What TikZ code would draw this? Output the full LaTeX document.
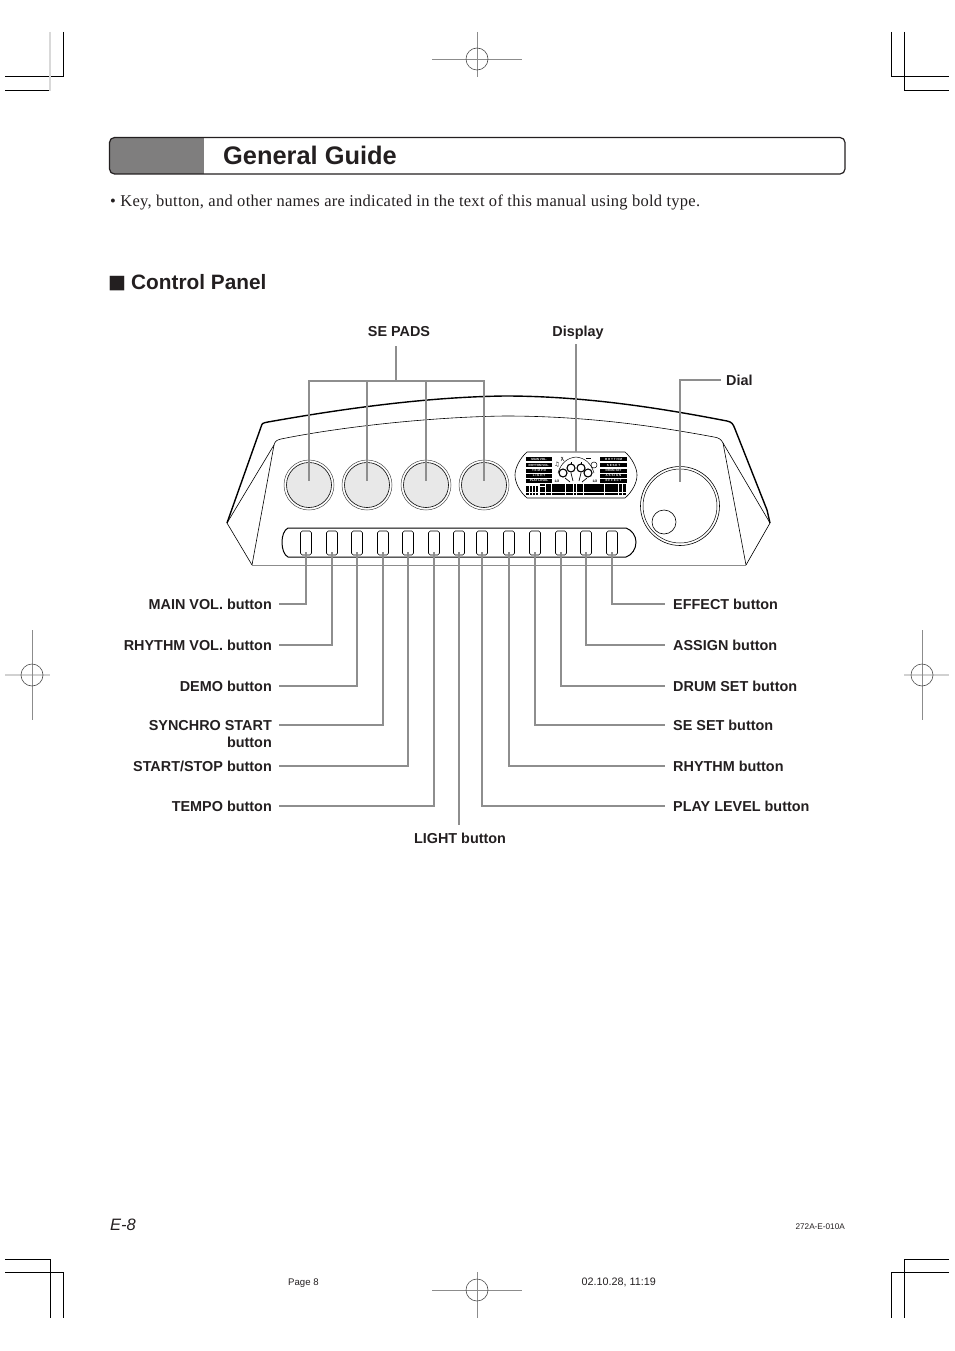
\documentclass[tikz,border=0pt]{standalone}
\usepackage{fontspec}
\setmainfont{Liberation Sans}
\newfontfamily\serifbody[LetterSpace=1.65]{Liberation Serif}
\newfontfamily\symfont{DejaVu Sans}
\definecolor{leadgray}{HTML}{8E8E8E}
\definecolor{padgray}{HTML}{E8E8E8}
\definecolor{bargray}{HTML}{7F7E7E}
\definecolor{titleink}{HTML}{231F20}
\newcommand{\fsz}[1]{\fontsize{#1}{#1}\selectfont}
\tikzset{
  crop/.style={black,line width=1pt},
  croplight/.style={black!15,line width=1.4pt},
  reg/.style={black!45,line width=0.8pt},
  reglight/.style={black!18,line width=1.2pt},
  regring/.style={black!70,line width=0.6pt},
  leader/.style={leadgray,line width=2pt},
  lab/.style={inner sep=0pt,text=titleink,font=\fsz{14.4}\bfseries},
  labl/.style={lab,anchor=east,align=right},
  labr/.style={lab,anchor=west,align=left},
  btn/.style={draw=black,line width=0.6pt,rounded corners=1.8pt,minimum width=11pt,minimum height=24pt,inner sep=0pt},
  pad/.style={circle,draw=black,line width=0.6pt,fill=padgray,minimum size=45pt,inner sep=0pt},
  padring/.style={circle,draw=black!70,line width=0.5pt,minimum size=50pt,inner sep=0pt},
  lcdbox/.style={fill=black,text=white,inner sep=0pt,minimum width=26pt,minimum height=4pt,font=\fsz{3}\bfseries},
  lcdboxb/.style={lcdbox,minimum width=27pt},
  tiny/.style={inner sep=0pt,font=\fsz{3.4}\bfseries},
}
\begin{document}
\begin{tikzpicture}[x=1pt,y=-1pt]
\useasboundingbox (0,0) rectangle (954,1351);
% crop marks
\draw[crop] (63,32) -- (63,77) -- (5,77);
\draw[crop] (5,91) -- (49,91);
\draw[croplight] (50,32) -- (50,91);
\draw[crop] (891,32) -- (891,77) -- (949,77);
\draw[crop] (904,32) -- (904,91) -- (949,91);
\draw[crop] (5,1259) -- (50,1259) -- (50,1318);
\draw[crop] (5,1272) -- (63,1272) -- (63,1318);
\draw[crop] (949,1259) -- (904,1259) -- (904,1318);
\draw[crop] (949,1272) -- (891,1272) -- (891,1318);
% registration marks
\draw[reg] (432,59) -- (522,59) (477,32) -- (477,77);
\draw[regring] (477,59) circle (11);
\draw[reg] (432,1290) -- (522,1290) (477,1272) -- (477,1318);
\draw[regring] (477,1290) circle (11);
\draw[reglight] (5,675) -- (50,675);
\draw[reg] (32,630) -- (32,720);
\draw[regring] (32,675) circle (11);
\draw[reglight] (904,675) -- (949,675);
\draw[reg] (922,630) -- (922,720);
\draw[regring] (922,675) circle (11);
% title bar
\begin{scope}
\clip[rounded corners=5pt] (109.5,137.5) rectangle (845,174);
\fill[bargray] (109,137) rectangle (204,175);
\end{scope}
\draw[titleink,line width=1.2pt,rounded corners=5pt] (109.5,137.5) rectangle (845,174);
\node[anchor=base west,inner sep=0pt,text=titleink,font=\fsz{25.4}\bfseries] (title) at (223,165) {General Guide};
\node[anchor=base west,inner sep=0pt,text=titleink,font=\serifbody\fsz{16.5}] (intro) at (110,207) {• Key, button, and other names are indicated in the text of this manual using bold type.};
\node[anchor=base west,inner sep=0pt,text=titleink,font=\symfont\fsz{19}] (sq) at (108,288) {■};
\node[anchor=base west,inner sep=0pt,text=titleink,font=\fsz{20.8}\bfseries] (cp) at (131,289) {Control Panel};
% panel body
\draw[black,line width=1.4pt,line join=round] (227,523) -- (261,427) .. controls (262,423) and (263,423) .. (268,422)
  .. controls (330,411) and (420,397) .. (505,396) .. controls (590,396) and (670,410) .. (727,421)
  .. controls (732,422) and (733,424) .. (735,429) -- (767,510) -- (770,523);
\draw[black,line width=0.6pt] (227,523) -- (252,565);
\draw[black,line width=0.6pt] (770,523) -- (746,565);
\draw[black!45,line width=0.8pt] (252,565) -- (746,565);
\draw[black,line width=0.6pt,line join=round] (252,565) -- (274,445) .. controls (275,441) and (277,440) .. (281,439)
  .. controls (340,427) and (430,417) .. (505,416) .. controls (590,416) and (660,427) .. (714,437)
  .. controls (719,438) and (721,439) .. (723,443) -- (746,565);
\draw[black,line width=0.6pt] (274,445) -- (227,523);
\draw[black,line width=0.6pt] (723,443) -- (770,523);
% pads
\foreach \n/\x in {1/309,2/367,3/426,4/484}{
  \node[padring] (padr\n) at (\x,485) {};
  \node[pad] (pad\n) at (\x,485) {};
}
% dial
\node[circle,draw=black,line width=0.6pt,minimum size=79pt,inner sep=0pt] (dial) at (680,506) {};
\node[circle,draw=black,line width=0.5pt,minimum size=74pt,inner sep=0pt] (dialin) at (680,506) {};
\node[circle,draw=black,line width=0.6pt,minimum size=24pt,inner sep=0pt] (dialknob) at (664,522) {};
% button strip
\draw[black,line width=1pt] (288,528) -- (626,528) .. controls (632,530) and (636,536) .. (636,542) .. controls (636,549) and (632,555) .. (626,557) -- (288,557) .. controls (284,555) and (282,549) .. (282,542) .. controls (282,536) and (284,530) .. (288,528) -- cycle;
\foreach \n/\x in {1/306,2/332,3/357,4/383,5/408,6/434,7/459,8/482,9/509,10/535,11/561,12/586,13/612}{
  \node[btn] (b\n) at (\x,543) {};
  \coordinate (t\n) at (\x,552);
}
% display
\draw[black,line width=0.6pt] (527,452) -- (625,452) .. controls (632,458) and (637,468) .. (637,475) .. controls (637,483) and (632,492) .. (625,498) -- (527,498) .. controls (520,492) and (515,483) .. (515,475) .. controls (515,468) and (520,458) .. (527,452) -- cycle;
\node[lcdbox] (d1) at (539,459) {MAIN VOL.};
\node[lcdbox] (d2) at (539,465) {RHYTHM VOL.};
\node[lcdbox] (d3) at (539,470.5) {T E M P O};
\node[lcdbox] (d4) at (539,475.5) {L I G H T};
\node[lcdbox] (d5) at (539,480.5) {PLAY LEVEL};
\node[lcdboxb] (d6) at (613.5,459) {R H Y T H M};
\node[lcdboxb] (d7) at (613.5,465) {S E  S E T};
\node[lcdboxb] (d8) at (613.5,470.5) {DRUM SET};
\node[lcdboxb] (d9) at (613.5,475.5) {A S S I G N};
\node[lcdboxb] (d10) at (613.5,480.5) {E F F E C T};
% display bars
\fill[black] (526,486) rectangle (538,495);
\fill[black] (540,483.5) rectangle (626,495);
\draw[white,line width=0.7pt] (529,486) -- (529,495) (532,486) -- (532,495) (535,486) -- (535,495) (526,492) -- (538,492);
\draw[white,line width=0.7pt] (540,492) -- (626,492) (540,486) -- (545,486)
  (545,483.5) -- (545,495) (551,483.5) -- (551,495) (565,483.5) -- (565,495) (573,483.5) -- (573,495) (576,483.5) -- (576,495) (583,483.5) -- (583,495) (604,483.5) -- (604,495) (618,483.5) -- (618,495) (622,483.5) -- (622,495);
% drum icon
\draw[black,line width=0.5pt] (558,473) .. controls (561,463) and (567,458) .. (576,457) .. controls (585,458) and (591,463) .. (594,473);
\foreach \n/\x/\y in {1/563/473,2/571/468,3/581/468,4/588/473}{
  \node[circle,draw=black,line width=1.1pt,minimum size=8pt,inner sep=0pt] (dr\n) at (\x,\y) {};
}
\draw[black,line width=0.7pt] (565,478) -- (570,482) (571,473) -- (573,481) (581,473) -- (579,481) (587,478) -- (582,482);
\draw[black,line width=0.7pt] (571,462) -- (571,464) (581,462) -- (581,464);
\node[tiny] (half1) at (557,481) {1/2};
\node[tiny] (half2) at (595,481) {1/2};
\node[inner sep=0pt,font=\symfont\fsz{6}] (note) at (557,465) {♫};
\draw[black,line width=0.4pt] (561,457) -- (564,461) (563,457) -- (561,461);
\draw[black,line width=0.5pt] (586,458) -- (591,458);
\node[circle,draw=black,line width=0.5pt,minimum size=6pt,inner sep=0pt] (hat) at (594,465) {};
% top labels and leaders
\node[lab] (sepads) at (399,332) {SE PADS};
\node[lab] (display) at (578,333) {Display};
\node[labr] (diallab) at (726,380) {Dial};
\coordinate (sejoin) at (396,381);
\coordinate (selft) at (309,381);
\coordinate (seright) at (484,381);
\draw[leader] (396,346) -- (sejoin);
\draw[leader,line cap=rect] (selft) -- (seright);
\draw[leader] (selft) -- ([yshift=4pt]pad1.center);
\draw[leader] (367,381) -- ([yshift=4pt]pad2.center);
\draw[leader] (426,381) -- ([yshift=4pt]pad3.center);
\draw[leader] (seright) -- ([yshift=4pt]pad4.center);
\draw[leader] (576,344) -- (576,452);
\draw[leader] (721,380) -| ([yshift=24pt]dial.center);
% left labels
\node[labl] (l1) at (272,604) {MAIN VOL. button};
\node[labl] (l2) at (272,645) {RHYTHM VOL. button};
\node[labl] (l3) at (272,686) {DEMO button};
\node[labl,anchor=north east] (l4) at (272,720) {SYNCHRO START\\[3pt]button};
\node[labl] (l5) at (272,766) {START/STOP button};
\node[labl] (l6) at (272,806) {TEMPO button};
\coordinate (e4) at (279,725);
\draw[leader] (t1) |- ([xshift=7pt]l1.east);
\draw[leader,line width=1.5pt] (t2) |- ([xshift=7pt]l2.east);
\draw[leader] (t3) |- ([xshift=7pt]l3.east);
\draw[leader,line width=1.5pt] (t4) |- (e4);
\draw[leader,line width=1.5pt] (t5) |- ([xshift=7pt]l5.east);
\draw[leader,line width=1.5pt] (t6) |- ([xshift=7pt]l6.east);
% light
\node[lab] (l7) at (460,838) {LIGHT button};
\draw[leader,line width=1.5pt] (t7) -- (459,825);
% right labels
\node[labr] (r1) at (673,604) {EFFECT button};
\node[labr] (r2) at (673,645) {ASSIGN button};
\node[labr] (r3) at (673,686) {DRUM SET button};
\node[labr] (r4) at (673,725) {SE SET button};
\node[labr] (r5) at (673,766) {RHYTHM button};
\node[labr] (r6) at (673,806) {PLAY LEVEL button};
\draw[leader] (t13) |- ([xshift=-8pt]r1.west);
\draw[leader] (t12) |- ([xshift=-8pt]r2.west);
\draw[leader,line width=1.5pt] (t11) |- ([xshift=-8pt]r3.west);
\draw[leader] (t10) |- ([xshift=-8pt]r4.west);
\draw[leader] (t9) |- ([xshift=-8pt]r5.west);
\draw[leader,line width=1.5pt] (t8) |- ([xshift=-8pt]r6.west);
% footer
\node[anchor=base west,inner sep=0pt,text=titleink,font=\fsz{16.5}\itshape] (pg) at (110,1230) {E-8};
\node[anchor=base east,inner sep=0pt,text=titleink,font=\fsz{8.2}] (code) at (845,1229) {272A-E-010A};
\node[anchor=base west,inner sep=0pt,text=titleink,font=\fsz{9.6}] (pgs) at (288,1285) {Page 8};
\node[anchor=base east,inner sep=0pt,text=titleink,font=\fsz{10.8}] (stamp) at (656,1285) {02.10.28, 11:19};
\end{tikzpicture}
\end{document}
